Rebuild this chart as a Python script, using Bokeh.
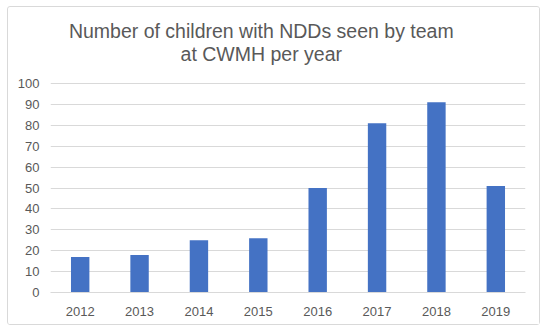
from bokeh.plotting import figure
from bokeh.models import ColumnDataSource, Range1d, Label, FixedTicker
from bokeh.embed import file_html
from bokeh.resources import INLINE

years = ["2012", "2013", "2014", "2015", "2016", "2017", "2018", "2019"]
children = [17, 18, 25, 26, 50, 81, 91, 51]
y_ticks = [0, 10, 20, 30, 40, 50, 60, 70, 80, 90, 100]
title_lines = ["Number of children with NDDs seen by team", "at CWMH per year"]

FONT = "Liberation Sans"
GREY = "#595959"

src = ColumnDataSource(dict(year=years, n=children))

# frame extends up into the title area; gridlines/ticks only to 100
p = figure(x_range=years, y_range=Range1d(0, 136.4), width=533, height=319,
           output_backend="svg", toolbar_location=None,
           min_border_left=42, min_border_right=16, min_border_top=0, min_border_bottom=34)
p.styles = {"border": "1px solid #D9D9D9", "border-radius": "3px"}
p.margin = (6, 0, 0, 7)

p.vbar(x="year", top="n", width=0.31, source=src, color="#4472C4", line_color=None)

p.outline_line_color = None
p.xgrid.grid_line_color = None
p.ygrid.grid_line_color = "#D9D9D9"
p.ygrid.grid_line_width = 1
p.yaxis.ticker = FixedTicker(ticks=y_ticks)

for ax in (p.xaxis, p.yaxis):
    ax.major_tick_line_color = None
    ax.minor_tick_line_color = None
    ax.major_label_text_font = FONT
    ax.major_label_text_font_size = "13px"
    ax.major_label_text_color = GREY
p.yaxis.axis_line_color = None
p.xaxis.axis_line_color = "#D9D9D9"
p.yaxis.major_tick_out = 0
p.yaxis.major_label_standoff = 11
p.xaxis.major_label_standoff = 8

for txt, yy in zip(title_lines, [125.3, 114.1]):
    p.add_layout(Label(x=3.55, y=yy, text=txt,
                       text_align="center", text_baseline="alphabetic",
                       text_font=FONT, text_font_size="19.5px", text_color=GREY))

open("out.html", "w").write(file_html(p, INLINE))
